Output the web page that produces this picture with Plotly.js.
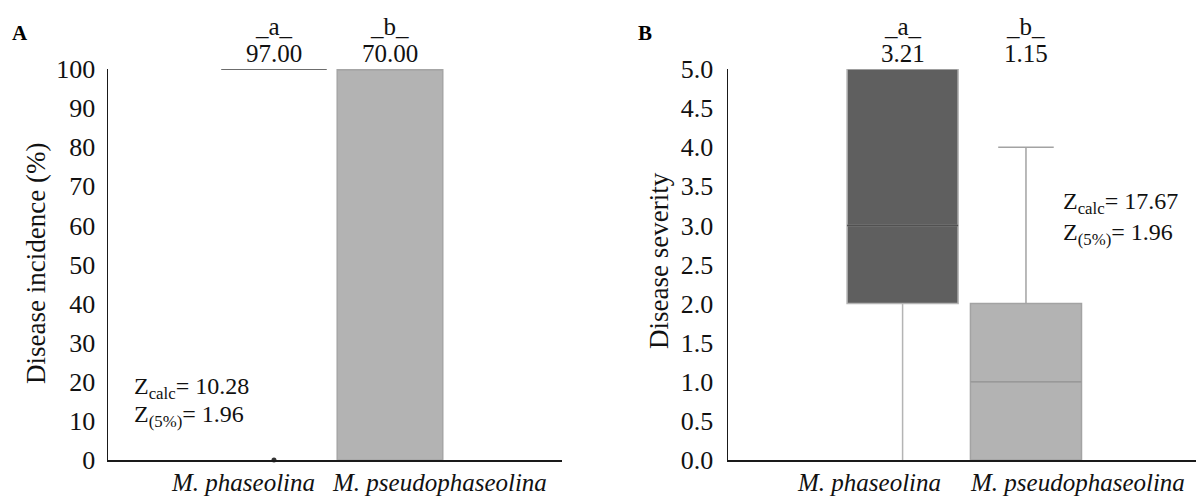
<!DOCTYPE html>
<html>
<head>
<meta charset="utf-8">
<script src="https://cdn.plot.ly/plotly-3.0.1.min.js"></script>
<style>html,body{margin:0;padding:0;background:#fff;}#chart{width:1198px;height:499px;}</style>
</head>
<body>
<div id="chart"></div>
<script>
// ---- data ----
const categories = ["M. phaseolina", "M. pseudophaseolina"];
const letters = ["a", "b"];

// Panel A: disease incidence (%)
const incQ1 = [100, 0];
const incMedian = [100, 100];
const incQ3 = [100, 100];
const incLowerFence = [100, 0];
const incUpperFence = [100, 100];
const incMeans = ["97.00", "70.00"];
const incOutlierCat = [0];
const incOutlierY = [0];
const incZcalc = "10.28";
const incZ5 = "1.96";

// Panel B: disease severity
const sevQ1 = [2, 0];
const sevMedian = [3, 1];
const sevQ3 = [5, 2];
const sevLowerFence = [0, 0];
const sevUpperFence = [5, 4];
const sevMeans = ["3.21", "1.15"];
const sevZcalc = "17.67";
const sevZ5 = "1.96";

const incTicks = [0, 10, 20, 30, 40, 50, 60, 70, 80, 90, 100];
const sevTicks = [0, 0.5, 1, 1.5, 2, 2.5, 3, 3.5, 4, 4.5, 5];

// ---- styles ----
const W = 1198, H = 499;
const FONT = '"Liberation Serif", "Times New Roman", serif';
const px = v => v / W;
const py = v => (H - v) / H;

const incStyle = [
  {fill: "rgba(0,0,0,0)", line: "#6c6c6c", lw: 2, ww: 0},
  {fill: "#b3b3b3", line: "#a6a6a6", lw: 1.5, ww: 0}
];
const sevStyle = [
  {fill: "#5f5f5f", line: "#b4b4b4", lw: 1.5, ww: 0, med: "#515151"},
  {fill: "#b3b3b3", line: "#a3a3a3", lw: 1.5, ww: 0.5, med: "#999999"}
];

const traces = [];
categories.forEach((c, i) => {
  traces.push({
    type: "box", x: [i], q1: [incQ1[i]], median: [incMedian[i]], q3: [incQ3[i]],
    lowerfence: [incLowerFence[i]], upperfence: [incUpperFence[i]],
    width: 0.91, whiskerwidth: incStyle[i].ww, fillcolor: incStyle[i].fill,
    line: {color: incStyle[i].line, width: incStyle[i].lw},
    boxpoints: false, hoverinfo: "skip", showlegend: false, xaxis: "x", yaxis: "y"
  });
});
traces.push({
  type: "scatter", mode: "markers", x: incOutlierCat, y: incOutlierY,
  marker: {color: "#333333", size: 5}, cliponaxis: false,
  hoverinfo: "skip", showlegend: false, xaxis: "x", yaxis: "y"
});
categories.forEach((c, i) => {
  traces.push({
    type: "box", x: [i], q1: [sevQ1[i]], median: [sevMedian[i]], q3: [sevQ3[i]],
    lowerfence: [sevLowerFence[i]], upperfence: [sevUpperFence[i]],
    width: 0.9, whiskerwidth: sevStyle[i].ww, fillcolor: sevStyle[i].fill,
    line: {color: sevStyle[i].line, width: sevStyle[i].lw},
    boxpoints: false, hoverinfo: "skip", showlegend: false, xaxis: "x2", yaxis: "y2"
  });
  // median line overlay in its own shade
  traces.push({
    type: "box", x: [i], q1: [sevMedian[i]], median: [sevMedian[i]], q3: [sevMedian[i]],
    lowerfence: [sevMedian[i]], upperfence: [sevMedian[i]],
    width: 0.9, whiskerwidth: 0, fillcolor: "rgba(0,0,0,0)",
    line: {color: sevStyle[i].med, width: 1.5},
    boxpoints: false, hoverinfo: "skip", showlegend: false, xaxis: "x2", yaxis: "y2"
  });
});

const axisCommon = {
  showline: true, linecolor: "#1a1a1a", linewidth: 1.5, showgrid: false, zeroline: false,
  ticks: "", fixedrange: true
};

const annotations = [];
const tickFont = {family: FONT, size: 26, color: "#111"};
const labFont = {family: FONT, size: 25, color: "#111"};

// panel letters
annotations.push({xref: "paper", yref: "paper", x: px(20), y: py(33), text: "<b>A</b>", showarrow: false,
  xanchor: "center", yanchor: "middle", font: {family: FONT, size: 21, color: "#000"}});
annotations.push({xref: "paper", yref: "paper", x: px(645), y: py(33), text: "<b>B</b>", showarrow: false,
  xanchor: "center", yanchor: "middle", font: {family: FONT, size: 21, color: "#000"}});

// y titles
annotations.push({xref: "paper", yref: "paper", x: px(36), y: py(264), text: "Disease incidence (%)",
  textangle: -90, showarrow: false, xanchor: "center", yanchor: "middle", font: {family: FONT, size: 27, color: "#111"}});
annotations.push({xref: "paper", yref: "paper", x: px(659), y: py(261), text: "Disease severity",
  textangle: -90, showarrow: false, xanchor: "center", yanchor: "middle", font: {family: FONT, size: 27, color: "#111"}});

// category labels (shifted as in the figure)
const labelShiftA = [-0.267, 0.43];
const labelShiftB = [-0.27, 0.42];
categories.forEach((c, i) => {
  annotations.push({xref: "x", yref: "paper", x: i + labelShiftA[i], y: py(482), text: "<i>" + c + "</i>",
    showarrow: false, xanchor: "center", yanchor: "middle", font: labFont});
  annotations.push({xref: "x2", yref: "paper", x: i + labelShiftB[i], y: py(482), text: "<i>" + c + "</i>",
    showarrow: false, xanchor: "center", yanchor: "middle", font: labFont});
  // letters and means
  annotations.push({xref: "x", yref: "paper", x: i, y: py(26), text: "_" + letters[i] + "_",
    showarrow: false, xanchor: "center", yanchor: "middle", font: labFont});
  annotations.push({xref: "x", yref: "paper", x: i, y: py(53), text: incMeans[i],
    showarrow: false, xanchor: "center", yanchor: "middle", font: labFont});
  annotations.push({xref: "x2", yref: "paper", x: i, y: py(26), text: "_" + letters[i] + "_",
    showarrow: false, xanchor: "center", yanchor: "middle", font: labFont});
  annotations.push({xref: "x2", yref: "paper", x: i, y: py(53), text: sevMeans[i],
    showarrow: false, xanchor: "center", yanchor: "middle", font: labFont});
});

// Z statistics
const zFont = {family: FONT, size: 24, color: "#111"};
annotations.push({xref: "paper", yref: "paper", x: px(132), y: py(388), text: "Z<sub>calc</sub>= " + incZcalc,
  showarrow: false, xanchor: "left", yanchor: "middle", font: zFont});
annotations.push({xref: "paper", yref: "paper", x: px(132), y: py(416), text: "Z<sub>(5%)</sub>= " + incZ5,
  showarrow: false, xanchor: "left", yanchor: "middle", font: zFont});
annotations.push({xref: "paper", yref: "paper", x: px(1061), y: py(203), text: "Z<sub>calc</sub>= " + sevZcalc,
  showarrow: false, xanchor: "left", yanchor: "middle", font: zFont});
annotations.push({xref: "paper", yref: "paper", x: px(1061), y: py(234), text: "Z<sub>(5%)</sub>= " + sevZ5,
  showarrow: false, xanchor: "left", yanchor: "middle", font: zFont});

const yDomain = [py(460), py(69)];

const layout = {
  width: W, height: H,
  margin: {l: 0, r: 0, t: 0, b: 0, pad: 0},
  paper_bgcolor: "#ffffff", plot_bgcolor: "#ffffff",
  font: {family: FONT, color: "#111"},
  boxmode: "overlay",
  showlegend: false,
  xaxis: Object.assign({}, axisCommon, {domain: [px(108), px(562)], range: [-1.431, 2.483],
    showticklabels: false, anchor: "y"}),
  yaxis: Object.assign({}, axisCommon, {domain: yDomain, range: [0, 100], tickvals: incTicks,
    tickfont: tickFont, ticklabelstandoff: 6, anchor: "x"}),
  xaxis2: Object.assign({}, axisCommon, {domain: [px(728), px(1196)], range: [-1.415, 2.378],
    showticklabels: false, anchor: "y2"}),
  yaxis2: Object.assign({}, axisCommon, {domain: yDomain, range: [0, 5], tickvals: sevTicks,
    tickformat: ".1f", tickfont: tickFont, ticklabelstandoff: 8, anchor: "x2"}),
  annotations: annotations
};

Plotly.newPlot("chart", traces, layout, {displayModeBar: false, staticPlot: true});
</script>
</body>
</html>
